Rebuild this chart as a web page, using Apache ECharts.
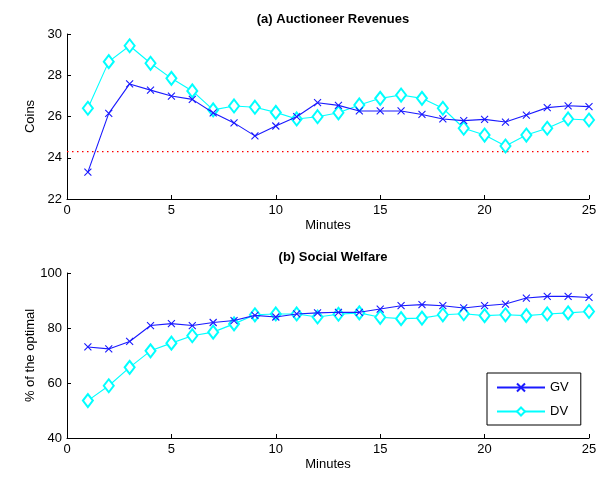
<!DOCTYPE html>
<html>
<head>
<meta charset="utf-8">
<script src="https://cdn.jsdelivr.net/npm/echarts@6/dist/echarts.min.js"></script>
<style>
  html, body { margin: 0; padding: 0; background: #fff; }
  #chart { width: 606px; height: 481px; }
</style>
</head>
<body>
<div id="chart"></div>
<script>
// minutes 1..25
var minutes = [1, 2, 3, 4, 5, 6, 7, 8, 9, 10, 11, 12, 13, 14, 15, 16, 17, 18, 19, 20, 21, 22, 23, 24, 25];

// (a) auctioneer revenues, coins
var revenueGV = [23.3, 26.15, 27.58, 27.28, 26.99, 26.83, 26.18, 25.69, 25.06, 25.54, 25.99, 26.67, 26.54,
                 26.27, 26.27, 26.27, 26.1, 25.88, 25.8, 25.86, 25.73, 26.07, 26.43, 26.52, 26.48];
var revenueDV = [26.4, 28.66, 29.43, 28.58, 27.85, 27.24, 26.32, 26.51, 26.45, 26.2, 25.88, 25.99, 26.18,
                 26.56, 26.88, 27.04, 26.88, 26.4, 25.43, 25.1, 24.57, 25.1, 25.43, 25.88, 25.83];
var reserveLevel = 24.3;

// (b) social welfare, % of the optimal
var welfareGV = [73.1, 72.4, 75.1, 80.9, 81.6, 80.9, 82.0, 82.7, 84.6, 84.0, 85.1, 85.5, 85.7,
                 85.7, 86.9, 88.1, 88.5, 88.1, 87.3, 88.1, 88.7, 90.9, 91.5, 91.5, 91.1];
var welfareDV = [53.6, 59.0, 65.7, 71.7, 74.5, 77.2, 78.5, 81.5, 84.8, 85.1, 85.1, 84.0, 85.0,
                 85.5, 83.9, 83.4, 83.6, 84.8, 85.2, 84.5, 84.8, 84.5, 85.1, 85.5, 86.0];

var xTicks = { min: 0, max: 25, interval: 5 };
var yTicksTop = { min: 22, max: 30, interval: 2 };
var yTicksBottom = { min: 40, max: 100, interval: 20 };

function pairs(xs, ys) {
    return xs.map(function (x, i) { return [x, ys[i]]; });
}

var FONT = 'Liberation Sans';
var crossSymbol = 'path://M0,0L10,10M10,0L0,10';

function xAxisFor(gridIndex) {
    return {
        gridIndex: gridIndex,
        type: 'value',
        min: xTicks.min, max: xTicks.max, interval: xTicks.interval,
        name: 'Minutes',
        nameLocation: 'middle',
        nameGap: 20,
        nameTextStyle: { color: '#000', fontSize: 13, fontFamily: FONT },
        axisLine: { show: true, lineStyle: { color: '#000', width: 1 } },
        axisTick: { show: true, inside: true, length: 4, lineStyle: { color: '#000' } },
        axisLabel: { color: '#000', fontSize: 13, fontFamily: FONT, margin: 5 },
        splitLine: { show: false }
    };
}

function yAxisFor(gridIndex, ticks, name, gap) {
    return {
        gridIndex: gridIndex,
        type: 'value',
        min: ticks.min, max: ticks.max, interval: ticks.interval,
        name: name,
        nameLocation: 'middle',
        nameGap: gap,
        nameMoveOverlap: false,
        nameTextStyle: { color: '#000', fontSize: 13, fontFamily: FONT },
        axisLine: { show: true, lineStyle: { color: '#000', width: 1 } },
        axisTick: { show: true, inside: true, length: 4, lineStyle: { color: '#000' } },
        axisLabel: { color: '#000', fontSize: 13, fontFamily: FONT, margin: 5 },
        splitLine: { show: false }
    };
}

function gvSeries(name, idx, data) {
    return {
        name: name, type: 'line', xAxisIndex: idx, yAxisIndex: idx,
        data: data,
        symbol: crossSymbol, symbolSize: 7,
        itemStyle: { color: 'rgba(0,0,0,0)', borderColor: '#1a1aff', borderWidth: 1.1 },
        lineStyle: { color: '#1a1aff', width: 1.1 },
        animation: false, z: 3
    };
}

function dvSeries(name, idx, data) {
    return {
        name: name, type: 'line', xAxisIndex: idx, yAxisIndex: idx,
        data: data,
        symbol: 'emptyDiamond', symbolSize: [10, 13],
        itemStyle: { color: '#00ffff', borderColor: '#00ffff', borderWidth: 1 },
        lineStyle: { color: '#00ffff', width: 1.1 },
        animation: false, z: 2
    };
}

var chart = echarts.init(document.getElementById('chart'), null, { renderer: 'canvas' });

var option = {
    backgroundColor: '#fff',
    animation: false,
    title: [
        { text: '(a) Auctioneer Revenues', left: 328, top: 8, textAlign: 'center',
          textStyle: { fontSize: 13, fontWeight: 'bold', color: '#000', fontFamily: FONT } },
        { text: '(b) Social Welfare', left: 328, top: 246, textAlign: 'center',
          textStyle: { fontSize: 13, fontWeight: 'bold', color: '#000', fontFamily: FONT } }
    ],
    grid: [
        { left: 67, top: 34, width: 522, height: 165 },
        { left: 67, top: 273, width: 522, height: 165 }
    ],
    legend: {
        data: ['GV', 'DV'],
        orient: 'vertical',
        left: 487, top: 373,
        width: 94,
        padding: [8, 12, 7, 9],
        itemGap: 11,
        itemWidth: 48, itemHeight: 10,
        borderColor: '#000', borderWidth: 1,
        backgroundColor: '#fff',
        textStyle: { color: '#000', fontSize: 13, fontFamily: FONT }
    },
    xAxis: [xAxisFor(0), xAxisFor(1)],
    yAxis: [
        yAxisFor(0, yTicksTop, 'Coins', 30),
        yAxisFor(1, yTicksBottom, '% of the optimal', 30)
    ],
    series: [
        gvSeries('GV', 0, pairs(minutes, revenueGV)),
        dvSeries('DV', 0, pairs(minutes, revenueDV)),
        {
            name: 'reserve', type: 'line', xAxisIndex: 0, yAxisIndex: 0,
            data: [[xTicks.min, reserveLevel], [xTicks.max, reserveLevel]],
            symbol: 'none',
            lineStyle: { color: '#ff0000', width: 1.3, type: [1.5, 3.5] },
            animation: false, z: 1
        },
        gvSeries('GV', 1, pairs(minutes, welfareGV)),
        dvSeries('DV', 1, pairs(minutes, welfareDV))
    ]
};

chart.setOption(option);
</script>
</body>
</html>
